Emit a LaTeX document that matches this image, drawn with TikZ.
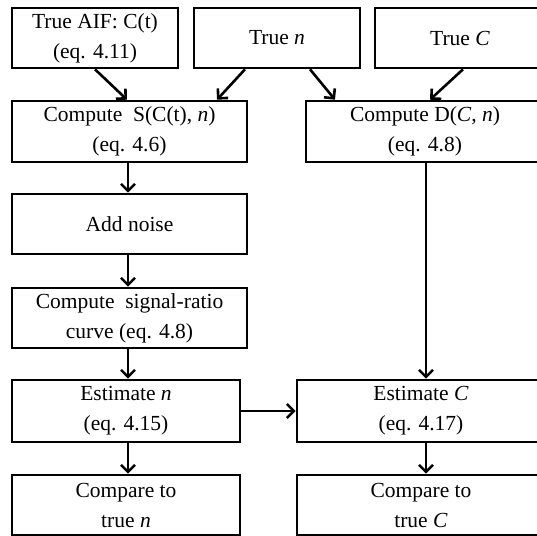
\documentclass[tikz,border=0pt]{standalone}
\usepackage{fontspec}
\setmainfont{Liberation Serif}
\usetikzlibrary{arrows.meta}
\begin{document}
\begin{tikzpicture}[x=1pt,y=-1pt,
  box/.style={draw=black, line width=2.6pt, fill=white, inner sep=0pt, align=center,
    font=\fontsize{21.5}{30}\selectfont, text=black},
  arr/.style={line width=2.6pt, -{Straight Barb[length=7pt,width=14pt,line width=2.6pt]}}]
\useasboundingbox (0,0) rectangle (537,535);
\fill[white] (0,0) rectangle (537,535);
\node[box, minimum width=166pt, minimum height=60pt] (aif) at (95,38) {True AIF: C(t)\\(eq. 4.11)};
\node[box, minimum width=166pt, minimum height=60pt] (tn) at (277,38) {True \textit{n}};
\node[box, minimum width=170pt, minimum height=60pt] (tc) at (460,38) {True \textit{C}};
\node[box, minimum width=235pt, minimum height=61pt] (cs) at (129.5,131.5) {Compute\ \ S(C(t), \textit{n})\\(eq. 4.6)};
\node[box, minimum width=238pt, minimum height=61pt] (cd) at (425,131.5) {Compute D(\textit{C}, \textit{n})\\(eq. 4.8)};
\node[box, minimum width=235pt, minimum height=60pt] (an) at (129.5,224) {Add noise};
\node[box, minimum width=235pt, minimum height=60pt] (sr) at (129.5,318) {Compute\ \ signal-ratio\\curve (eq. 4.8)};
\node[box, minimum width=228pt, minimum height=62pt] (en) at (126,411) {Estimate \textit{n}\\(eq. 4.15)};
\node[box, minimum width=248pt, minimum height=62pt] (ec) at (421,411) {Estimate \textit{C}\\(eq. 4.17)};
\node[box, minimum width=228pt, minimum height=60pt] (cn) at (126,505) {Compare to\\true \textit{n}};
\node[box, minimum width=248pt, minimum height=60pt] (cc) at (421,505) {Compare to\\true \textit{C}};
\draw[arr] (aif.south) -- ([xshift=-2.5pt]cs.north);
\draw[arr] ([xshift=-32pt]tn.south) -- ([xshift=87.5pt]cs.north);
\draw[arr] ([xshift=33pt]tn.south) -- ([xshift=-90pt]cd.north);
\draw[arr] ([xshift=3pt]tc.south) -- ([xshift=5pt]cd.north);
\draw[arr] ([xshift=-1.5pt]cs.south) -- ([xshift=-1.5pt]an.north);
\draw[arr] ([xshift=-1.5pt]an.south) -- ([xshift=-1.5pt]sr.north);
\draw[arr] ([xshift=-1.5pt]sr.south) -- ([xshift=2pt]en.north);
\draw[arr] ([xshift=1pt]cd.south) -- ([xshift=5pt]ec.north);
\draw[arr] (en.east) -- (ec.west);
\draw[arr] ([xshift=2pt]en.south) -- ([xshift=2pt]cn.north);
\draw[arr] ([xshift=5pt]ec.south) -- ([xshift=5pt]cc.north);
\end{tikzpicture}
\end{document}
